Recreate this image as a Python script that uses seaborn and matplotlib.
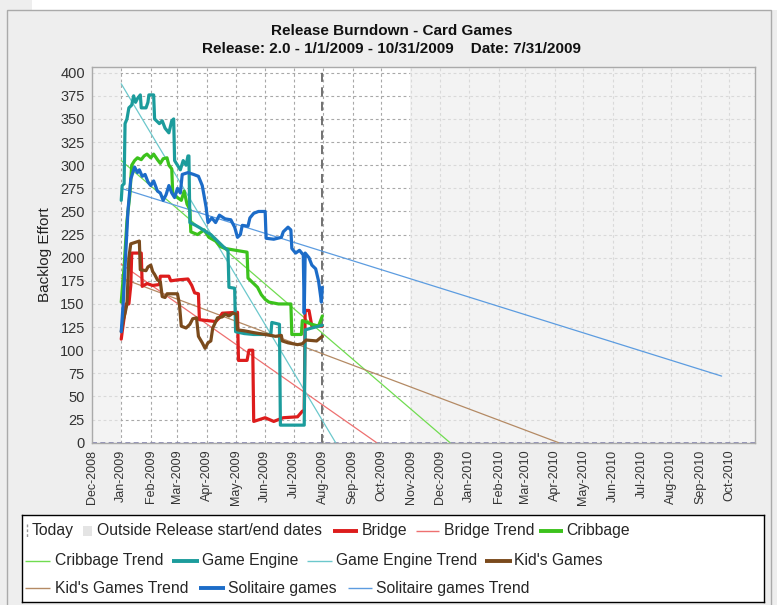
import numpy as np
import pandas as pd
import seaborn as sns
import matplotlib.pyplot as plt
import matplotlib.dates as mdates
from matplotlib.patches import Rectangle

# ---- data ----
bridge_dates = ["2009-01-01", "2009-01-02", "2009-01-04", "2009-01-06", "2009-01-09", "2009-01-11",
                "2009-01-12", "2009-01-22", "2009-01-23", "2009-01-28", "2009-02-03", "2009-02-10",
                "2009-02-11", "2009-02-20", "2009-02-22", "2009-03-01", "2009-03-12", "2009-03-16",
                "2009-03-19", "2009-03-23", "2009-03-24", "2009-04-10", "2009-04-14", "2009-04-17",
                "2009-05-03", "2009-05-04", "2009-05-13", "2009-05-15", "2009-05-19", "2009-05-20",
                "2009-06-01", "2009-06-10", "2009-06-20", "2009-07-05", "2009-07-10", "2009-07-12",
                "2009-07-13", "2009-07-17", "2009-07-20", "2009-07-31"]
bridge_vals = [112, 120, 135, 150, 150, 170,
               205, 205, 169, 172, 170, 171,
               180, 180, 175, 176, 177, 170,
               162, 161, 133, 131, 135, 140,
               141, 89, 89, 100, 100, 23,
               27, 23, 27, 28, 34, 35,
               143, 143, 126, 126]

cribbage_dates = ["2009-01-01", "2009-01-04", "2009-01-07", "2009-01-10", "2009-01-12", "2009-01-15",
                  "2009-01-18", "2009-01-22", "2009-01-25", "2009-01-28", "2009-02-01", "2009-02-04",
                  "2009-02-08", "2009-02-11", "2009-02-14", "2009-02-18", "2009-02-20", "2009-02-23",
                  "2009-02-24", "2009-03-01", "2009-03-05", "2009-03-08", "2009-03-11", "2009-03-14",
                  "2009-03-15", "2009-03-22", "2009-03-29", "2009-04-03", "2009-04-10", "2009-04-15",
                  "2009-04-20", "2009-05-01", "2009-05-13", "2009-05-14", "2009-05-20", "2009-05-24",
                  "2009-05-28", "2009-06-01", "2009-06-05", "2009-06-15", "2009-06-28", "2009-06-29",
                  "2009-07-09", "2009-07-10", "2009-07-20", "2009-07-27", "2009-07-31"]
cribbage_vals = [152, 190, 240, 268, 300, 305,
                 308, 306, 310, 312, 308, 312,
                 306, 302, 307, 308, 300, 296,
                 270, 265, 262, 272, 258, 252,
                 228, 225, 230, 222, 218, 212,
                 210, 208, 206, 178, 172, 168,
                 160, 155, 152, 150, 150, 117,
                 117, 132, 128, 126, 137]

engine_dates = ["2009-01-01", "2009-01-02", "2009-01-04", "2009-01-05", "2009-01-07", "2009-01-09",
                "2009-01-12", "2009-01-14", "2009-01-16", "2009-01-18", "2009-01-21", "2009-01-22",
                "2009-01-27", "2009-01-29", "2009-01-30", "2009-02-04", "2009-02-05", "2009-02-10",
                "2009-02-13", "2009-02-16", "2009-02-20", "2009-02-23", "2009-02-25", "2009-02-26",
                "2009-03-01", "2009-03-04", "2009-03-07", "2009-03-10", "2009-03-12", "2009-03-13",
                "2009-03-14", "2009-03-20", "2009-03-25", "2009-03-31", "2009-04-05", "2009-04-12",
                "2009-04-18", "2009-04-23", "2009-04-24", "2009-04-30", "2009-05-01", "2009-05-10",
                "2009-05-20", "2009-06-07", "2009-06-08", "2009-06-16", "2009-06-17", "2009-07-12",
                "2009-07-13", "2009-07-20", "2009-07-31"]
engine_vals = [262, 278, 280, 345, 350, 362,
               365, 375, 368, 372, 376, 362,
               362, 368, 376, 376, 350, 345,
               348, 340, 335, 348, 350, 305,
               300, 295, 305, 300, 310, 310,
               238, 235, 232, 228, 225, 218,
               212, 208, 168, 167, 120, 118,
               117, 117, 130, 128, 19, 19,
               122, 124, 127]

kids_dates = ["2009-01-01", "2009-01-03", "2009-01-05", "2009-01-07", "2009-01-09", "2009-01-11",
              "2009-01-20", "2009-01-21", "2009-01-27", "2009-01-29", "2009-02-01", "2009-02-03",
              "2009-02-05", "2009-02-08", "2009-02-11", "2009-02-13", "2009-02-16", "2009-02-18",
              "2009-03-01", "2009-03-03", "2009-03-05", "2009-03-10", "2009-03-14", "2009-03-17",
              "2009-03-21", "2009-03-23", "2009-03-27", "2009-03-30", "2009-04-02", "2009-04-05",
              "2009-04-07", "2009-04-12", "2009-04-17", "2009-04-20", "2009-04-24", "2009-04-28",
              "2009-05-02", "2009-05-03", "2009-05-10", "2009-05-20", "2009-06-01", "2009-06-12",
              "2009-06-18", "2009-06-19", "2009-06-25", "2009-07-05", "2009-07-10", "2009-07-14",
              "2009-07-25", "2009-07-31"]
kids_vals = [120, 132, 140, 150, 200, 215,
             218, 187, 186, 190, 192, 185,
             182, 176, 174, 158, 157, 161,
             161, 150, 126, 124, 128, 134,
             135, 115, 108, 102, 108, 110,
             124, 135, 136, 139, 137, 140,
             139, 122, 121, 119, 117, 115,
             116, 110, 108, 106, 107, 111,
             110, 115]

solitaire_dates = ["2009-01-01", "2009-01-03", "2009-01-05", "2009-01-08", "2009-01-11", "2009-01-15",
                   "2009-01-18", "2009-01-20", "2009-01-23", "2009-01-26", "2009-01-29", "2009-02-01",
                   "2009-02-04", "2009-02-08", "2009-02-11", "2009-02-14", "2009-02-17", "2009-02-20",
                   "2009-02-23", "2009-02-26", "2009-03-01", "2009-03-04", "2009-03-06", "2009-03-12",
                   "2009-03-18", "2009-03-23", "2009-03-27", "2009-03-31", "2009-04-02", "2009-04-06",
                   "2009-04-10", "2009-04-14", "2009-04-20", "2009-04-26", "2009-04-30", "2009-05-03",
                   "2009-05-06", "2009-05-08", "2009-05-14", "2009-05-16", "2009-05-20", "2009-05-25",
                   "2009-06-01", "2009-06-02", "2009-06-10", "2009-06-18", "2009-06-20", "2009-06-25",
                   "2009-06-28", "2009-06-29", "2009-07-03", "2009-07-07", "2009-07-11", "2009-07-12",
                   "2009-07-13", "2009-07-17", "2009-07-20", "2009-07-24", "2009-07-27", "2009-07-29",
                   "2009-07-30", "2009-07-31"]
solitaire_vals = [120, 150, 190, 250, 285, 298,
                  292, 295, 288, 290, 282, 278,
                  283, 272, 270, 262, 268, 278,
                  270, 265, 275, 270, 290, 292,
                  290, 288, 278, 255, 238, 243,
                  238, 246, 242, 241, 233, 222,
                  225, 235, 234, 243, 248, 250,
                  250, 221, 220, 222, 228, 233,
                  230, 210, 205, 208, 203, 140,
                  205, 200, 192, 188, 175, 160,
                  152, 168]

# trend lines: (start date, start value, end date, end value)
trend_names = ["Bridge Trend", "Cribbage Trend", "Game Engine Trend", "Kid's Games Trend", "Solitaire games Trend"]
trend_start = ["2009-01-01", "2009-01-01", "2009-01-01", "2009-01-01", "2009-01-01"]
trend_start_vals = [193, 305, 388, 178, 275]
trend_end = ["2009-09-26", "2009-12-12", "2009-08-14", "2010-04-05", "2010-09-23"]
trend_end_vals = [0, 0, 0, 0, 72]

series_names = ["Bridge", "Cribbage", "Game Engine", "Kid's Games", "Solitaire games"]
series_colors = ["#dd1c1c", "#3cc21c", "#1c9c9c", "#7a4a1c", "#1c6cc8"]
trend_colors = ["#ee7070", "#70dc50", "#6cc8cc", "#b48a64", "#5c9ce0"]

release_start = "2009-01-01"
release_end = "2009-10-31"
today = "2009-07-31"
x_min, x_max = "2008-12-01", "2010-10-28"

# ---- build long tables ----
rows = []
for name, d, v in zip(series_names,
                      [bridge_dates, cribbage_dates, engine_dates, kids_dates, solitaire_dates],
                      [bridge_vals, cribbage_vals, engine_vals, kids_vals, solitaire_vals]):
    for di, vi in zip(d, v):
        rows.append((name, pd.Timestamp(di), vi))
df = pd.DataFrame(rows, columns=["series", "date", "effort"])

trows = []
for name, s, sv, e, ev in zip(trend_names, trend_start, trend_start_vals, trend_end, trend_end_vals):
    trows.append((name, pd.Timestamp(s), sv))
    trows.append((name, pd.Timestamp(e), ev))
tdf = pd.DataFrame(trows, columns=["series", "date", "effort"])

# ---- figure ----
sns.set_theme(style="white")
plt.rcParams["font.family"] = ["Liberation Sans", "DejaVu Sans"]

W, H = 777, 605
fig = plt.figure(figsize=(W / 100, H / 100), dpi=100)
fig.patch.set_facecolor("#eeeeee")
fig.patches.append(Rectangle((32 / W, 1 - 10 / H), 1, 10 / H, transform=fig.transFigure,
                             facecolor="white", edgecolor="none", zorder=-3))
fig.patches.append(Rectangle((7 / W, -0.01), (771 - 7) / W, (H - 10) / H + 0.01, transform=fig.transFigure,
                             facecolor="#eeeeee", edgecolor="#aaaaaa", lw=1, zorder=-2))

ax = fig.add_axes([91.7 / W, 1 - 442.7 / H, (755 - 91.7) / W, (442.7 - 66.7) / H])
ax.set_facecolor("white")

# outside release shading (fades the grid a bit) and today marker
ax.axvspan(pd.Timestamp(x_min), pd.Timestamp(release_start), color="#eeeeee", alpha=0.7, zorder=0.6, lw=0)
ax.axvspan(pd.Timestamp(release_end), pd.Timestamp(x_max), color="#eeeeee", alpha=0.7, zorder=0.6, lw=0)
ax.axvline(pd.Timestamp(today), color="#666666", lw=1.3, ls=(0, (5, 3)), zorder=1)
ax.axhline(0, color="#8080b0", lw=1.2, ls=(0, (3, 2)), zorder=1)

sns.lineplot(data=tdf, x="date", y="effort", hue="series", palette=dict(zip(trend_names, trend_colors)),
             estimator=None, lw=0.9, legend=False, ax=ax, zorder=2)
sns.lineplot(data=df, x="date", y="effort", hue="series", palette=dict(zip(series_names, series_colors)),
             estimator=None, lw=2.3, legend=False, ax=ax, zorder=3)

ax.set_xlim(pd.Timestamp(x_min), pd.Timestamp(x_max))
ax.set_ylim(0, 406.5)
ax.set_yticks(np.arange(0, 401, 25))
ax.xaxis.set_major_locator(mdates.MonthLocator())
ax.xaxis.set_major_formatter(mdates.DateFormatter("%b-%Y"))
ax.set_axisbelow(True)
ax.grid(True, color="#a8a8a8", lw=0.8, ls=(0, (2.5, 2.5)))
ax.tick_params(axis="x", rotation=90, labelsize=9, length=3, color="#888888", labelcolor="#333333", pad=2)
ax.tick_params(axis="y", labelsize=10.5, length=3, color="#888888", labelcolor="#333333", pad=2)
for sp in ax.spines.values():
    sp.set_color("#aaaaaa")
    sp.set_linewidth(1)
ax.set_xlabel("")
ax.set_ylabel("Backlog Effort", fontsize=11, color="#222222")
ax.yaxis.set_label_coords((52 - 91.7) / (755 - 91.7), 0.5)

# title
fig.text(392 / W, 1 - 31 / H, "Release Burndown - Card Games", ha="center", va="center",
         fontsize=11, fontweight="bold", color="#111111")
fig.text(392 / W, 1 - 49 / H, "Release: 2.0 - 1/1/2009 - 10/31/2009    Date: 7/31/2009", ha="center",
         va="center", fontsize=11, fontweight="bold", color="#111111")

# ---- legend box (flowing layout as in the original) ----
lax = fig.add_axes([22 / W, 3 / H, 742 / W, 87 / H])
lax.set_xlim(0, 742)
lax.set_ylim(87, 0)
lax.set_xticks([])
lax.set_yticks([])
lax.set_facecolor("white")
for sp in lax.spines.values():
    sp.set_color("black")
    sp.set_linewidth(1)

fs = 11.3
r1, r2, r3 = 15.7, 45.7, 73.3
lax.plot([5, 5], [r1 - 7, r1 + 7], color="#999999", lw=1, ls=(0, (2, 1.5)))
lax.text(10, r1, "Today", va="center", fontsize=fs)
lax.add_patch(Rectangle((61, r1 - 5), 9, 10, facecolor="#e4e4e4", edgecolor="none"))
lax.text(75, r1, "Outside Release start/end dates", va="center", fontsize=fs)

legend_items = [
    (r1, 311, 336, 340, series_names[0], series_colors[0], 2.8),
    (r1, 394, 417, 422, trend_names[0], trend_colors[0], 1.0),
    (r1, 517, 541, 544, series_names[1], series_colors[1], 2.8),
    (r2, 3, 28, 33, trend_names[1], trend_colors[1], 1.0),
    (r2, 150, 177, 180, series_names[2], series_colors[2], 2.8),
    (r2, 284.5, 309.5, 314, trend_names[2], trend_colors[2], 1.0),
    (r2, 463, 490, 492, series_names[3], series_colors[3], 2.8),
    (r3, 3, 28, 33, trend_names[3], trend_colors[3], 1.0),
    (r3, 177, 203, 206, series_names[4], series_colors[4], 2.8),
    (r3, 325.5, 349.7, 354.5, trend_names[4], trend_colors[4], 1.0),
]
for ry, x0, x1, tx, label, col, lw in legend_items:
    lax.plot([x0, x1], [ry, ry], color=col, lw=lw, solid_capstyle="butt")
    lax.text(tx, ry, label, va="center", fontsize=fs)

fig.savefig("out.png", dpi=100, facecolor=fig.get_facecolor())
